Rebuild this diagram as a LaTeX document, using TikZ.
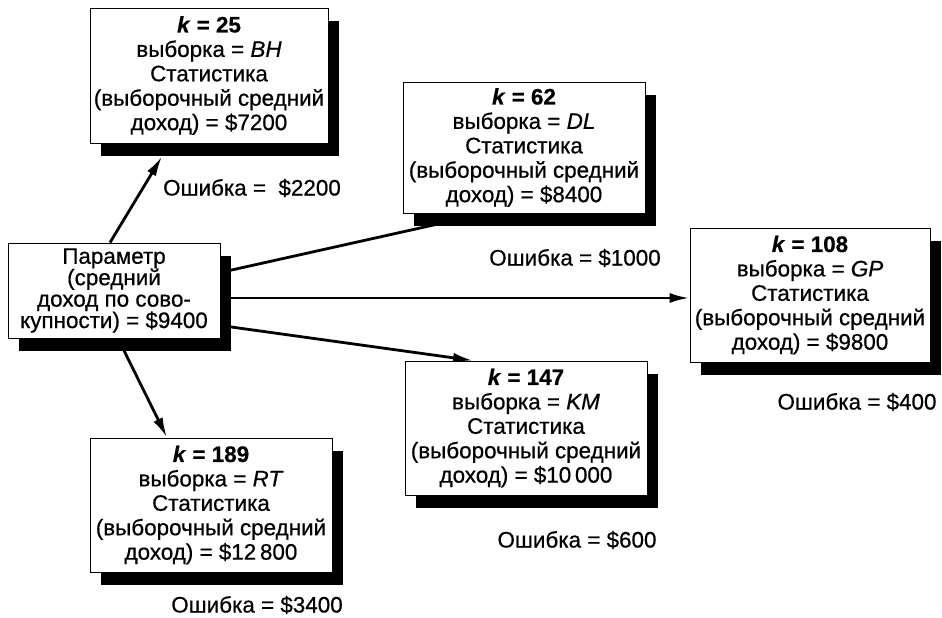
\documentclass[tikz,border=0pt]{standalone}
\usepackage{fontspec}
\setmainfont{Liberation Sans}[RawFeature={embolden=0.6}]
\usetikzlibrary{arrows.meta,shadows}
\pgfdeclarelayer{background}
\pgfsetlayers{background,main}

\begin{document}
\begin{tikzpicture}[x=1bp,y=-1bp,
  card/.style={draw=black, line width=0.9bp, fill=white, align=center,
    inner sep=0pt, font=\fontsize{22.5}{24.5}\selectfont,
    minimum width=240bp, minimum height=134bp,
    drop shadow={shadow xshift=11bp, shadow yshift=-13bp, fill=black, opacity=1}},
  parbox/.style={card, minimum width=212bp, minimum height=95bp,
    font=\fontsize{22.5}{21.5}\selectfont},
  errlabel/.style={inner sep=0pt, font=\fontsize{22.5}{24}\selectfont},
  link/.style={line width=2.8bp, -{Latex[length=20bp,width=10bp]}},
  plain/.style={line width=2.8bp}
]
\useasboundingbox (0,0) rectangle (942,618);

% population parameter
\node[parbox] (param) at (114,290.5)
  {Параметр\\(средний\\доход по сово-\\купности) = \$9400};

% samples
\node[card, minimum width=238bp, minimum height=135bp] (s25) at (209,75.5)
  {\textbf{\textit{k} = 25}\\выборка = \textit{BH}\\Статистика\\(выборочный средний\\доход) = \$7200};
\node[card, minimum width=242bp, minimum height=131bp] (s62) at (524,147.5)
  {\textbf{\textit{k} = 62}\\выборка = \textit{DL}\\Статистика\\(выборочный средний\\доход) = \$8400};
\node[card] (s108) at (810,295)
  {\textbf{\textit{k} = 108}\\выборка = \textit{GP}\\Статистика\\(выборочный средний\\доход) = \$9800};
\node[card, minimum width=242bp] (s147) at (526,428)
  {\textbf{\textit{k} = 147}\\выборка = \textit{KM}\\Статистика\\(выборочный средний\\доход) = \$10\,000};
\node[card, minimum width=242bp] (s189) at (211,505)
  {\textbf{\textit{k} = 189}\\выборка = \textit{RT}\\Статистика\\(выборочный средний\\доход) = \$12\,800};

% sampling errors
\node[errlabel] (e25) at (252,188) {Ошибка =\ \ \$2200};
\node[errlabel] (e62) at (575,258) {Ошибка = \$1000};
\node[errlabel] (e108) at (857,402) {Ошибка = \$400};
\node[errlabel] (e147) at (577,540) {Ошибка = \$600};
\node[errlabel] (e189) at (257,605) {Ошибка = \$3400};

% connectors, drawn beneath the boxes and their shadows
\begin{pgfonlayer}{background}
  \draw[link] ([xshift=-4bp]param.north) -- ([xshift=-47bp,yshift=-13bp]s25.south);
  \draw[plain] ([yshift=18bp]param.east) -- ([xshift=-79bp,yshift=-9bp]s62.south);
  \draw[link] ([yshift=-3bp]s108.west -| param.east) -- ([yshift=-3bp]s108.west);
  \draw[link] ([yshift=-35bp]param.east) -- ([xshift=-53bp]s147.north);
  \draw[link] ([xshift=4bp]param.south) -- ([xshift=-44bp]s189.north);
\end{pgfonlayer}
\end{tikzpicture}
\end{document}
